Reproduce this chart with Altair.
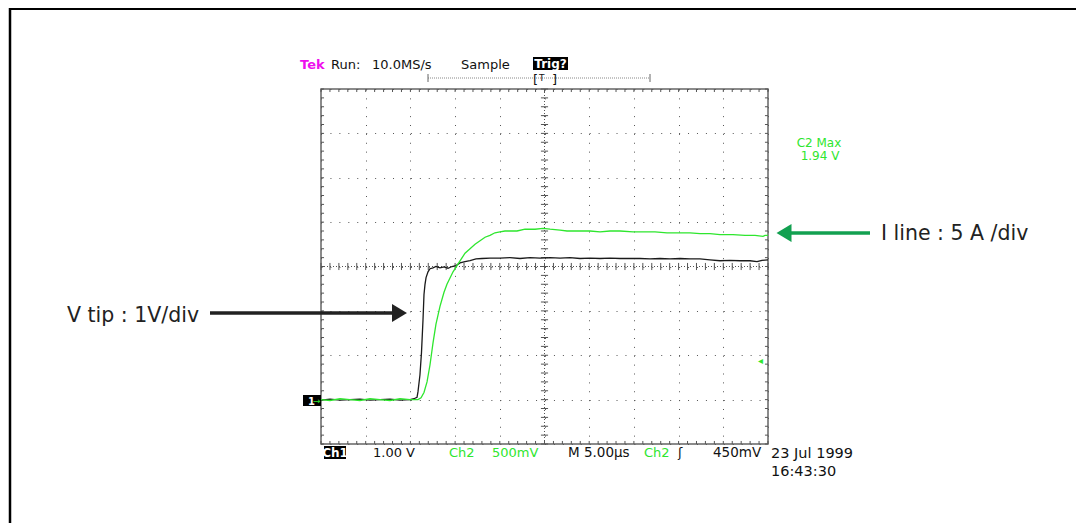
import altair as alt
import pandas as pd
import numpy as np

# Ch1 : V tip (1.00 V/div), time in microseconds (5 us/div)
t_v = [0.0, 1.01, 2.13, 3.24, 4.36, 5.48, 6.60, 7.72, 8.84, 9.96, 10.40, 10.74, 10.85,
       11.07, 11.24, 11.41, 11.52, 11.63, 11.75, 11.97, 12.19, 12.53, 12.86, 13.31, 13.76,
       14.21, 14.65, 15.10, 15.55, 16.11, 16.67, 17.34, 18.01, 18.90, 20.02, 21.14, 22.26,
       23.38, 24.50, 25.62, 26.74, 27.85, 28.97, 30.09, 31.21, 32.33, 33.45, 34.56, 35.68,
       36.80, 37.92, 39.04, 40.16, 41.28, 42.39, 43.51, 44.63, 45.75, 46.87, 47.99, 48.77,
       49.33, 50.0]
v_tip = [-0.01, 0.01, -0.01, 0.00, 0.01, -0.01, 0.00, 0.01, -0.01, 0.00, 0.02, 0.05, 0.18,
         0.56, 1.06, 1.80, 2.37, 2.59, 2.75, 2.88, 2.95, 2.97, 3.00, 2.97, 2.99,
         2.96, 3.00, 3.02, 3.08, 3.11, 3.13, 3.17, 3.18, 3.19, 3.19, 3.20, 3.18,
         3.20, 3.19, 3.20, 3.19, 3.20, 3.18, 3.19, 3.18, 3.19, 3.18, 3.18, 3.18,
         3.17, 3.18, 3.17, 3.18, 3.17, 3.17, 3.15, 3.13, 3.14, 3.13, 3.13, 3.11,
         3.14, 3.15]

# Ch2 : I line (500 mV/div), time in microseconds
t_i = [0.0, 1.01, 2.13, 3.24, 4.36, 5.48, 6.60, 7.72, 8.84, 9.96, 10.85, 11.19, 11.52,
       11.86, 12.19, 12.53, 12.86, 13.31, 13.76, 14.09, 14.43, 14.77, 15.21, 15.66, 16.11,
       16.67, 17.23, 17.79, 18.35, 18.90, 19.46, 20.02, 20.58, 21.14, 21.92, 22.82, 23.94,
       24.83, 25.62, 26.74, 27.52, 28.97, 30.09, 31.21, 32.33, 33.45, 34.90, 36.24, 37.36,
       38.70, 40.16, 41.28, 42.39, 43.51, 44.63, 46.08, 47.43, 48.55, 49.44, 49.67, 50.0]
i_line = [0.00, -0.01, 0.01, 0.00, -0.01, 0.01, 0.00, -0.01, 0.01, 0.00, 0.00, 0.02, 0.08,
          0.20, 0.39, 0.64, 0.85, 1.05, 1.21, 1.30, 1.37, 1.44, 1.51, 1.58, 1.65,
          1.70, 1.75, 1.79, 1.83, 1.85, 1.88, 1.89, 1.90, 1.90, 1.90, 1.92, 1.92,
          1.93, 1.92, 1.91, 1.90, 1.90, 1.90, 1.89, 1.90, 1.90, 1.89, 1.89, 1.89,
          1.88, 1.88, 1.88, 1.87, 1.87, 1.86, 1.86, 1.85, 1.85, 1.84, 1.85, 1.85]

CH1_VPD = 1.0      # volts per division
CH2_VPD = 0.5
GROUND_DIV = -3    # both channel grounds one division above the bottom

GRID_T = [0, 5, 10, 15, 20, 25, 30, 35, 40, 45, 50]
GRID_D = [-4, -3, -2, -1, 0, 1, 2, 3, 4]
MINOR_T = [float(i) for i in range(51)]
MINOR_D = [round(-4 + 0.2 * i, 2) for i in range(41)]

# ---------------- frames ----------------
df_v = pd.DataFrame({"t": t_v, "div": np.array(v_tip) / CH1_VPD + GROUND_DIV})
df_i = pd.DataFrame({"t": t_i, "div": np.array(i_line) / CH2_VPD + GROUND_DIV})

seg = []
for t in MINOR_T:
    seg.append((t, t, 4, 4 - 0.068))
    seg.append((t, t, -4, -4 + 0.068))
    seg.append((t, t, -0.08, 0.08))
for d in MINOR_D:
    seg.append((0, 0.34, d, d))
    seg.append((50 - 0.34, 50, d, d))
    seg.append((25 - 0.4, 25 + 0.4, d, d))
df_seg = pd.DataFrame(seg, columns=["x", "x2", "y", "y2"])
df_center = pd.DataFrame({"x": [0, 25], "x2": [50, 25], "y": [0, -4], "y2": [0, 4]})
dummy = pd.DataFrame({"k": [0]})

W, H = 447, 355
X0, Y0 = 321, 89   # page position of the graticule's top-left corner
SVG_W, SVG_H = 1068, 515
GREEN = "#2ee62e"
DKGREEN = "#12a050"

xscale = alt.Scale(domain=[0, 50], nice=False, zero=False)
yscale = alt.Scale(domain=[-4, 4], nice=False, zero=False)
xaxis = alt.Axis(values=GRID_T, grid=True, gridDash=[1, 7.875], gridColor="#555",
                 gridWidth=1, labels=False, ticks=False, domain=False, title=None)
yaxis = alt.Axis(values=GRID_D, grid=True, gridDash=[1, 7.94], gridColor="#555",
                 gridWidth=1, labels=False, ticks=False, domain=False, title=None)


def X(f):
    return alt.X(f, scale=xscale, axis=xaxis)


def Y(f):
    return alt.Y(f, scale=yscale, axis=yaxis)


def txt(text, px, py, color="#111", size=13, align="left", weight="normal",
        font="DejaVu Sans"):
    return alt.Chart(dummy).mark_text(
        text=text, align=align, baseline="alphabetic", font=font, fontSize=size,
        fontWeight=weight, color=color
    ).encode(x=alt.value(px - X0), y=alt.value(py - Y0))


def rule(x1, y1, x2, y2, color="#111", width=1.0, dash=None):
    kw = dict(color=color, strokeWidth=width)
    if dash:
        kw["strokeDash"] = dash
    return alt.Chart(dummy).mark_rule(**kw).encode(
        x=alt.value(x1 - X0), x2=alt.value(x2 - X0),
        y=alt.value(y1 - Y0), y2=alt.value(y2 - Y0))


def box(x1, y1, x2, y2, color="#000"):
    return alt.Chart(dummy).mark_rect(color=color).encode(
        x=alt.value(x1 - X0), x2=alt.value(x2 - X0),
        y=alt.value(y1 - Y0), y2=alt.value(y2 - Y0))


def head(px, py, color, right=True):
    shape = "M -0.83 -1 L 0.83 0 L -0.83 1 Z" if right else "M 0.83 -1 L -0.83 0 L 0.83 1 Z"
    return alt.Chart(dummy).mark_point(shape=shape, size=324, filled=True, color=color,
                                       opacity=1, strokeWidth=0).encode(
        x=alt.value(px - X0), y=alt.value(py - Y0))


ticks = alt.Chart(df_seg).mark_rule(color="#555", strokeWidth=1).encode(
    x=X("x:Q"), x2="x2:Q", y=Y("y:Q"), y2="y2:Q")
center = alt.Chart(df_center).mark_rule(color="#555", strokeWidth=1,
                                         strokeDash=[1, 2.0]).encode(
    x=X("x:Q"), x2="x2:Q", y=Y("y:Q"), y2="y2:Q")

trace_v = alt.Chart(df_v).mark_line(color="#1a1a1a", strokeWidth=1.3).encode(
    x=X("t:Q"), y=Y("div:Q"))
trace_i = alt.Chart(df_i).mark_line(color=GREEN, strokeWidth=1.3).encode(
    x=X("t:Q"), y=Y("div:Q"))

layers = [
    ticks, center, trace_v, trace_i,
    # outer figure frame
    rule(9, 8.5, 1076, 8.5, "#000", 3),
    rule(10, 7, 10, 540, "#000", 2.5),
    # header
    txt("Tek", 300, 69, "#ee10ee", 13, weight="bold"),
    txt("Run:", 331, 69),
    txt("10.0MS/s", 372, 69),
    txt("Sample", 461, 69),
    box(533, 57, 568, 70),
    txt("Trig?", 550.5, 68, "#ffffff", 12, align="center", weight="bold"),
    rule(428, 78, 650, 78, "#888", 1, [1, 1]),
    rule(428, 74, 428, 82, "#666", 1),
    rule(650, 74, 650, 82, "#666", 1),
    txt("[", 533, 84, "#111", 13),
    txt("]", 552, 84, "#111", 13),
    txt("T", 539, 81, "#111", 9),
    # bottom status line
    box(324, 446, 346, 459),
    txt("Ch1", 335, 457, "#ffffff", 12, align="center", weight="bold"),
    txt("1.00 V", 373, 457),
    txt("Ch2", 449, 457, GREEN),
    txt("500mV", 492, 457, GREEN),
    txt("M 5.00µs", 568, 457, size=13.5),
    txt("Ch2", 644, 457, GREEN),
    txt("ʃ", 678, 457),
    txt("450mV", 713, 457, size=13.5),
    txt("23 Jul 1999", 771, 458, size=14.5),
    txt("16:43:30", 771, 476, size=14.5),
    # measurement readout
    txt("C2 Max", 819, 147, GREEN, 12, align="center"),
    txt("1.94 V", 820, 160, GREEN, 12, align="center"),
    # ground and trigger level markers
    box(303, 395, 321, 406),
    txt("1", 308, 405, "#ffffff", 10, weight="bold"),
    txt("→", 313, 404, GREEN, 9),
    txt("◂", 758, 364, GREEN, 10),
    # annotations
    rule(210, 313, 394, 313, "#222", 3.5),
    head(399.5, 313, "#222", right=True),
    txt("V tip : 1V/div", 67, 322, "#222", 20.5),
    rule(788, 233, 870, 233, DKGREEN, 3.5),
    head(784, 233, DKGREEN, right=False),
    txt("I line : 5 A /div", 881, 240, "#222", 20.5),
]

chart = alt.layer(*layers).properties(
    width=W, height=H,
    autosize=alt.AutoSizeParams(type="none"),
    padding={"left": X0 - 8, "top": Y0 - 8, "right": SVG_W - (X0 - 8) - W,
             "bottom": SVG_H - (Y0 - 8) - H},
    background="white",
).configure_view(stroke="#666", strokeWidth=1.5)

chart.save("out.html", embed_options={"renderer": "svg", "actions": False})
